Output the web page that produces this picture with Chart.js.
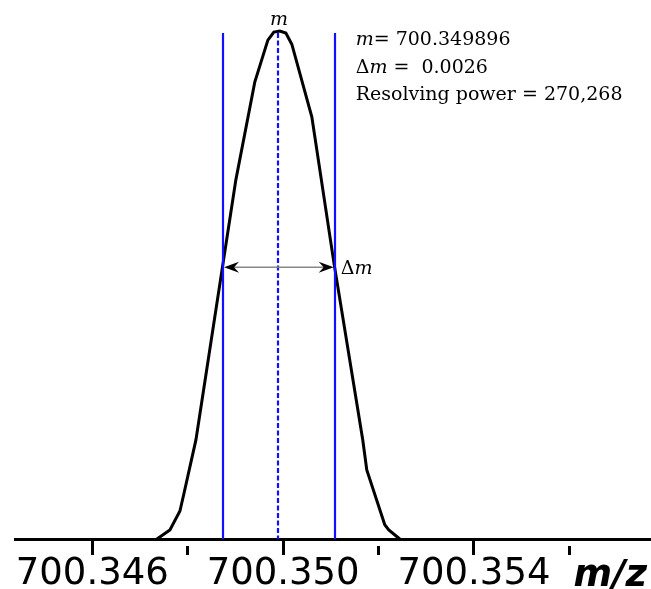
<!DOCTYPE html>
<html>
<head>
<meta charset="utf-8">
<script src="https://cdn.jsdelivr.net/npm/chart.js@4"></script>
<style>
  html, body { margin: 0; padding: 0; background: #fff; }
  #wrap { width: 651px; height: 589px; position: relative; }
</style>
</head>
<body>
<div id="wrap"><canvas id="peakChart"></canvas></div>
<script>
// profile (m/z vs relative intensity)
const mz = [
  700.347355, 700.347627, 700.347837, 700.347920, 700.348172, 700.349009,
  700.349407, 700.349680, 700.349805, 700.349931, 700.350057, 700.350182,
  700.350601, 700.351062, 700.351669, 700.351753, 700.352130, 700.352214,
  700.352444
];
const intensity = [
  0.000, 0.018, 0.055, 0.089, 0.195, 0.707,
  0.900, 0.982, 0.998, 1.000, 0.996, 0.974,
  0.831, 0.545, 0.195, 0.136, 0.028, 0.018,
  0.000
];

const xMin = 700.34438;
const xMax = 700.35771;
const tickStep = 0.002;

const centroid = 700.349896;
const fwhmEdges = [700.34874, 700.35108];
const halfHeight = 0.535;
const markerTop = 0.996;

const infoLines = [
  [['m', true], ['= 700.349896', false]],
  [['\u0394', false], ['m', true], [' =  0.0026', false]],
  [['Resolving power = 270,268', false]]
];

const isMajor = v => Math.round(v * 1000) % 4 === 2;

function drawSegments(ctx, segs, x, y) {
  segs.forEach(([txt, ital]) => {
    ctx.font = (ital ? 'italic ' : '') + '19px "DejaVu Serif"';
    ctx.fillText(txt, x, y);
    x += ctx.measureText(txt).width;
  });
  return x;
}

function arrowHead(ctx, x, y, dir) {
  ctx.beginPath();
  ctx.moveTo(x, y);
  ctx.lineTo(x - dir * 15, y - 5.5);
  ctx.lineTo(x - dir * 10, y);
  ctx.lineTo(x - dir * 15, y + 5.5);
  ctx.closePath();
  ctx.fill();
}

const annotations = {
  id: 'annotations',
  afterDatasetsDraw(chart) {
    const { ctx, chartArea, scales: { x, y } } = chart;
    const yTop = y.getPixelForValue(markerTop);
    const yBot = chartArea.bottom;
    ctx.save();
    ctx.strokeStyle = '#1010ff';
    ctx.lineWidth = 2.2;
    fwhmEdges.forEach(v => {
      const px = Math.round(x.getPixelForValue(v));
      ctx.beginPath();
      ctx.moveTo(px, yTop);
      ctx.lineTo(px, yBot);
      ctx.stroke();
    });
    ctx.setLineDash([5, 2.5]);
    const cx = Math.round(x.getPixelForValue(centroid));
    ctx.beginPath();
    ctx.moveTo(cx, yTop);
    ctx.lineTo(cx, yBot);
    ctx.stroke();
    ctx.setLineDash([]);

    // FWHM arrow
    const ay = y.getPixelForValue(halfHeight);
    const ax1 = x.getPixelForValue(fwhmEdges[0]) + 1;
    const ax2 = x.getPixelForValue(fwhmEdges[1]) - 1;
    ctx.strokeStyle = '#888';
    ctx.lineWidth = 1.5;
    ctx.beginPath();
    ctx.moveTo(ax1 + 8, ay);
    ctx.lineTo(ax2 - 8, ay);
    ctx.stroke();
    ctx.fillStyle = '#000';
    arrowHead(ctx, ax1, ay, -1);
    arrowHead(ctx, ax2, ay, 1);

    ctx.fillStyle = '#000';
    ctx.textBaseline = 'alphabetic';
    ctx.textAlign = 'left';
    drawSegments(ctx, [['\u0394', false], ['m', true]], ax2 + 7, ay + 7);

    // m above peak
    ctx.textAlign = 'center';
    ctx.font = 'italic 19px "DejaVu Serif"';
    ctx.fillText('m', cx + 1, y.getPixelForValue(1) - 6);

    // info block
    ctx.textAlign = 'left';
    infoLines.forEach((segs, i) => {
      drawSegments(ctx, segs, x.getPixelForValue(fwhmEdges[1]) + 21, chartArea.top + 14 + i * 27.5);
    });

    ctx.restore();
  },
  afterDraw(chart) {
    const { ctx, chartArea } = chart;
    ctx.save();
    ctx.fillStyle = '#000';
    ctx.font = 'italic bold 37px "DejaVu Sans"';
    ctx.textAlign = 'right';
    ctx.textBaseline = 'alphabetic';
    ctx.fillText('m/z', chartArea.right - 4, chart.height - 3);
    ctx.restore();
  }
};

new Chart(document.getElementById('peakChart'), {
  type: 'line',
  data: {
    datasets: [{
      data: mz.map((v, i) => ({ x: v, y: intensity[i] })),
      borderColor: '#000',
      borderWidth: 3,
      pointRadius: 0,
      tension: 0,
      fill: false,
      clip: false
    }]
  },
  options: {
    responsive: true,
    maintainAspectRatio: false,
    animation: false,
    layout: { padding: { top: 31, left: 15, right: 0, bottom: 0 } },
    plugins: { legend: { display: false }, tooltip: { enabled: false } },
    scales: {
      x: {
        type: 'linear',
        min: xMin,
        max: xMax,
        afterFit(scale) { scale.height = 50; },
        border: { display: true, color: '#000', width: 3 },
        grid: {
          drawOnChartArea: false,
          drawTicks: true,
          tickLength: 16,
          tickWidth: 3,
          tickColor: '#000',
          tickBorderDash: c => (c.tick && isMajor(c.tick.value)) ? [] : [0, 5, 11, 100]
        },
        ticks: {
          stepSize: tickStep,
          includeBounds: false,
          autoSkip: false,
          maxRotation: 0,
          padding: 1,
          color: '#000',
          font: { family: '"DejaVu Sans"', size: 37, lineHeight: 1 },
          callback: v => isMajor(v) ? v.toFixed(3) : ''
        }
      },
      y: { display: false, min: 0, max: 1 }
    }
  },
  plugins: [annotations]
});
</script>
</body>
</html>
